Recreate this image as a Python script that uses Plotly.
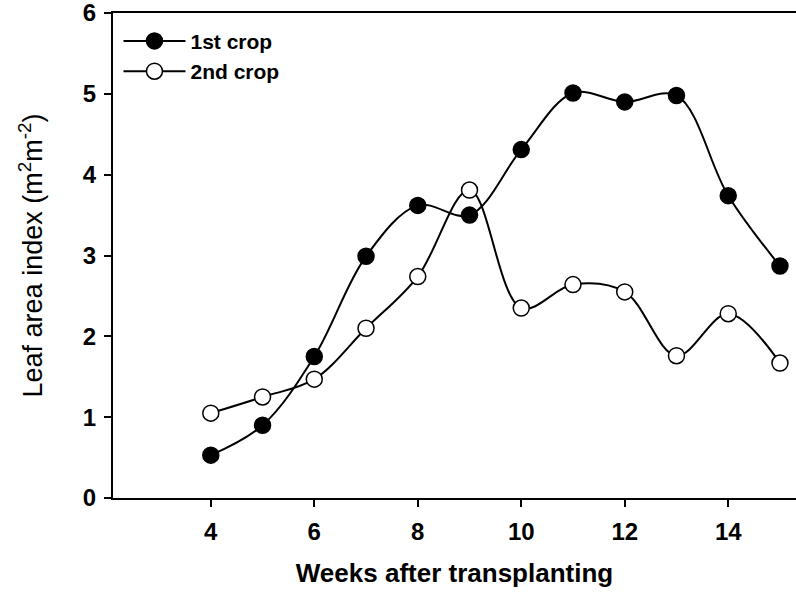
import plotly.graph_objects as go

weeks = [4, 5, 6, 7, 8, 9, 10, 11, 12, 13, 14, 15]
crop1 = [0.53, 0.90, 1.75, 2.99, 3.62, 3.50, 4.31, 5.01, 4.90, 4.98, 3.74, 2.87]
crop2 = [1.05, 1.25, 1.47, 2.10, 2.74, 3.81, 2.35, 2.64, 2.55, 1.76, 2.28, 1.67]
x_ticks = [4, 6, 8, 10, 12, 14]
y_ticks = [0, 1, 2, 3, 4, 5, 6]

FONT = "Liberation Sans, Arial, sans-serif"

fig = go.Figure()
fig.add_trace(go.Scatter(
    x=weeks, y=crop1, name="1st crop", mode="lines+markers",
    line=dict(color="black", width=2, shape="spline", smoothing=1.0),
    marker=dict(symbol="circle", size=16, color="black", line=dict(color="black", width=1.5)),
))
fig.add_trace(go.Scatter(
    x=weeks, y=crop2, name="2nd crop", mode="lines+markers",
    line=dict(color="black", width=2, shape="spline", smoothing=1.0),
    marker=dict(symbol="circle", size=16, color="white", line=dict(color="black", width=1.5)),
))

fig.update_layout(
    width=796, height=594,
    margin=dict(l=113, r=0, t=13, b=96),
    paper_bgcolor="white", plot_bgcolor="white",
    showlegend=True,
    legend=dict(x=0.008, y=0.984, xanchor="left", yanchor="top",
                font=dict(family=FONT, size=21, color="black", weight="bold"),
                bgcolor="rgba(0,0,0,0)", tracegroupgap=0, itemwidth=62),
    xaxis=dict(
        range=[2.11, 15.31], tickvals=x_ticks, ticks="outside", ticklen=7,
        tickwidth=1.5, tickcolor="black", showline=True, linecolor="black",
        linewidth=2, mirror=True, showgrid=False, zeroline=False,
        ticklabelstandoff=4, ticklabeloverflow="allow",
        tickfont=dict(family=FONT, size=24, color="black", weight="bold"),
        title=dict(text="Weeks after transplanting", standoff=20,
                   font=dict(family=FONT, size=26, color="black", weight="bold")),
    ),
    yaxis=dict(
        range=[0, 6], tickvals=y_ticks, ticks="outside", ticklen=7,
        tickwidth=1.5, tickcolor="black", showline=True, linecolor="black",
        linewidth=2, mirror=False, showgrid=False, zeroline=False,
        ticklabelstandoff=3, ticklabeloverflow="allow",
        tickfont=dict(family=FONT, size=24, color="black", weight="bold"),
        title=dict(text="Leaf area index (m<sup>2</sup>m<sup>-2</sup>)", standoff=32,
                   font=dict(family=FONT, size=27, color="black")),
    ),
)

fig.write_html("out.html")
